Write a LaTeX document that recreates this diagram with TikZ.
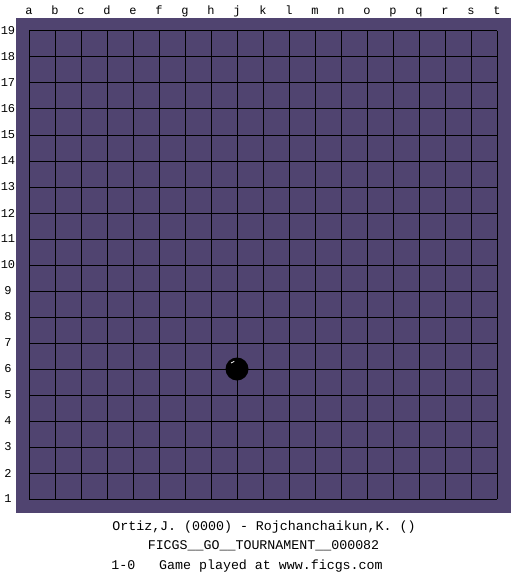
\documentclass[tikz,border=0pt]{standalone}
\usepackage{fontspec}
\newfontfamily\boardfont{Liberation Mono}
\definecolor{goboard}{RGB}{80,68,112}
\tikzset{
  lbl/.style={font=\boardfont\fontsize{12}{14}\selectfont, inner sep=0pt},
  caption/.style={font=\boardfont\fontsize{13.3}{15}\selectfont, inner sep=0pt},
}
\begin{document}
\begin{tikzpicture}[x=1pt,y=-1pt]
  \useasboundingbox[fill=white] (0,0) rectangle (525,575);
  \fill[goboard] (16,18) rectangle (511,513);
  % grid lines
  \foreach \i in {0,...,18} {
    \draw[line width=1pt] (29+26*\i,31) -- (29+26*\i,499);
    \draw[line width=1pt] (29,31+26*\i) -- (497,31+26*\i);
  }
  % coordinates
  \foreach \c [count=\i from 0] in {a,b,c,d,e,f,g,h,j,k,l,m,n,o,p,q,r,s,t}
    \node[lbl, anchor=base] (col-\c) at (29+26*\i,15) {\c};
  \foreach \r [count=\i from 0] in {19,18,...,1}
    \node[lbl] (row-\r) at (8,31+26*\i) {\r};
  % black stone on j6
  \fill[black] (237,369) circle (11.5);
  \draw[white, line width=0.8pt] (231,363) arc (225:260:6);
  % game info
  \node[caption, anchor=base] (players) at (264,530) {Ortiz,J. (0000) - Rojchanchaikun,K. ()};
  \node[caption, anchor=base] (event) at (263.5,549) {FICGS\_\_GO\_\_TOURNAMENT\_\_000082};
  \node[caption, anchor=base] (result) at (247,569) {1-0\ \ \ Game played at www.ficgs.com};
\end{tikzpicture}
\end{document}
